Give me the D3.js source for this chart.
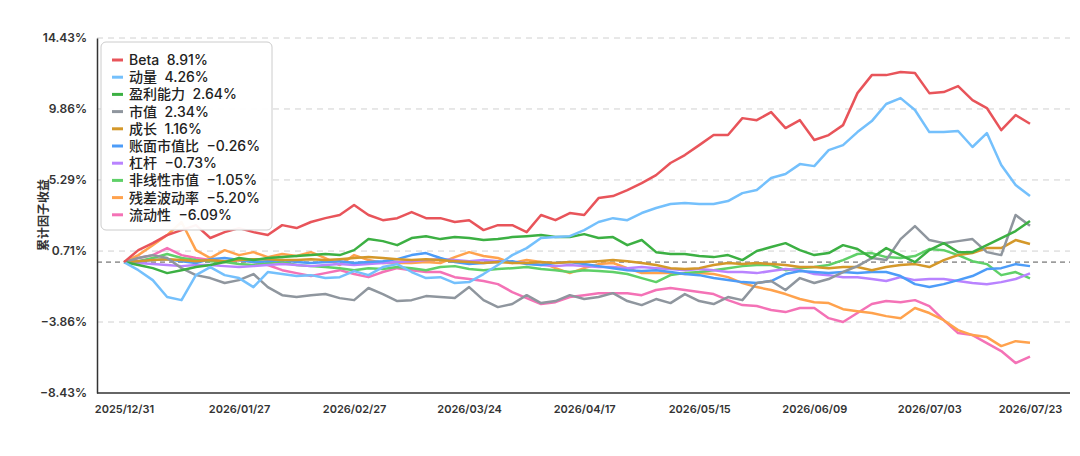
<!DOCTYPE html>
<html>
<head>
<meta charset="utf-8">
<script src="https://cdn.jsdelivr.net/npm/d3@7/dist/d3.min.js"></script>
<style>
body { margin: 0; background: #fff; }
text { font-family: "Inter", "Noto Sans CJK SC", sans-serif; }
</style>
</head>
<body>
<div id="chart"></div>
<script>
// factor names and colours, in legend order
var names = ["Beta", "动量", "盈利能力", "市值", "成长", "账面市值比", "杠杆", "非线性市值", "残差波动率", "流动性"];
var colors = ["#e8545a", "#74c0fc", "#3cb043", "#8f969e", "#d4982a", "#4d9cf8", "#b983ff", "#5fd068", "#ffa24d", "#f472b6"];

// cumulative returns (%), one point every ~2 trading days
var beta = [0,0.77,1.22,1.74,2.06,2.38,1.55,1.93,2.19,1.93,1.74,2.38,2.19,2.58,2.83,3.03,3.67,3.03,2.70,2.83,3.22,2.83,2.83,2.58,2.70,2.06,2.38,2.38,1.93,3.03,2.70,3.16,3.03,4.12,4.25,4.64,5.09,5.60,6.38,6.89,7.53,8.18,8.18,9.27,9.14,9.66,8.63,9.14,7.86,8.18,8.82,10.88,12.04,12.04,12.24,12.17,10.88,10.95,11.33,10.43,9.92,8.50,9.47,8.91];
var momentum = [0,-0.52,-1.16,-2.25,-2.45,-0.84,-0.32,-0.84,-1.03,-1.61,-0.64,-0.77,-0.90,-0.84,-1.03,-0.97,-0.58,-0.84,-0.32,-0.13,-0.64,-1.03,-0.97,-1.35,-1.29,-0.77,-0.19,0.45,0.90,1.55,1.61,1.67,2.06,2.58,2.83,2.70,3.16,3.48,3.74,3.80,3.74,3.74,3.93,4.44,4.64,5.41,5.67,6.31,6.18,7.21,7.53,8.37,9.08,10.18,10.56,9.79,8.37,8.37,8.44,7.41,8.31,6.25,4.96,4.26];
var profit = [0,-0.19,-0.39,-0.71,-0.52,-0.32,-0.19,0,0.26,0.13,0.26,0.32,0.39,0.45,0.52,0.45,0.77,1.48,1.35,1.09,1.55,1.67,1.48,1.61,1.55,1.42,1.48,1.61,1.67,1.74,1.61,1.61,1.80,1.55,1.61,1.09,1.42,0.64,0.52,0.52,0.39,0.32,0.45,0.13,0.71,0.97,1.22,0.77,0.45,0.58,1.09,0.84,0.26,0.90,0.45,0,0.77,1.22,0.64,0.64,1.09,1.55,2.00,2.64];
var size = [0,0.26,0.45,0.26,-0.39,-0.84,-1.03,-1.35,-1.16,-0.77,-1.61,-2.13,-2.25,-2.13,-2.06,-2.32,-2.45,-1.67,-2.06,-2.51,-2.45,-2.19,-2.25,-2.32,-1.61,-2.45,-2.90,-2.70,-2.13,-2.64,-2.51,-2.13,-2.38,-2.25,-2.00,-2.51,-2.77,-2.38,-2.64,-2.06,-2.51,-2.70,-2.25,-2.45,-1.35,-1.22,-1.80,-1.03,-1.35,-1.09,-0.64,-0.26,0.26,0.13,1.48,2.32,1.42,1.22,1.35,1.48,0.64,0.45,3.03,2.34];
var growth = [0,0.06,0.13,0.19,0.13,0.06,0.13,0.06,0.13,0.19,0.19,0.13,0.13,0.19,0.13,0.19,0.26,0.32,0.26,0.19,0.13,0.19,0.13,0.06,0,-0.06,0,-0.06,-0.06,0,-0.06,0,0,0.06,0.13,0.06,-0.06,-0.19,-0.39,-0.45,-0.39,-0.19,-0.06,-0.13,-0.06,-0.13,-0.19,-0.32,-0.32,-0.39,-0.32,-0.32,-0.52,-0.32,-0.19,-0.13,-0.32,0.13,0.45,0.58,0.90,0.90,1.42,1.16];
var btm = [0,0.06,0.13,0.19,0.06,-0.06,0.19,0.26,0.13,0,0.06,0.13,0,-0.06,0,0.06,-0.06,0,0.06,0.19,0.45,0.58,0.26,0,-0.13,-0.06,0,0.06,-0.13,-0.19,-0.06,0,-0.13,-0.26,-0.39,-0.52,-0.58,-0.52,-0.64,-0.77,-0.84,-1.03,-1.16,-1.29,-1.35,-1.22,-0.77,-0.58,-0.64,-0.71,-0.64,-0.71,-0.64,-0.64,-0.90,-1.42,-1.61,-1.42,-1.16,-0.90,-0.45,-0.39,-0.13,-0.26];
var leverage = [0,-0.06,-0.13,-0.19,-0.26,-0.19,-0.19,-0.26,-0.32,-0.26,-0.19,-0.13,-0.19,-0.26,-0.19,-0.13,-0.19,-0.13,-0.06,0,0.06,0.13,0.19,0.13,0.06,0.13,0.06,0,-0.06,-0.19,-0.26,-0.19,-0.26,-0.32,-0.32,-0.39,-0.32,-0.39,-0.45,-0.52,-0.45,-0.52,-0.64,-0.64,-0.71,-0.58,-0.45,-0.52,-0.77,-0.84,-0.97,-0.97,-1.09,-1.22,-0.97,-1.16,-1.09,-1.09,-1.22,-1.35,-1.42,-1.29,-1.09,-0.73];
var nlsize = [0,0.06,0.26,0.52,0.26,0.13,0.06,0,-0.13,-0.19,-0.06,0,-0.19,-0.26,-0.32,-0.39,-0.52,-0.39,-0.45,-0.32,-0.39,-0.52,-0.32,-0.26,-0.45,-0.52,-0.45,-0.39,-0.32,-0.45,-0.52,-0.64,-0.52,-0.58,-0.64,-0.77,-1.03,-1.29,-0.84,-0.71,-0.64,-0.52,-0.39,-0.26,-0.19,-0.19,-0.52,-0.39,-0.32,-0.19,0.13,0.52,0.58,0.32,0.26,0.39,0.84,0.77,0.45,0.06,-0.13,-0.84,-0.64,-1.05];
var resvol = [0,0.45,1.09,1.74,2.58,0.77,0.26,0.77,0.45,0.64,0.32,0.52,0.39,0.64,0.26,-0.19,0.45,0.13,-0.06,-0.06,-0.06,0,-0.06,0.32,0.64,0.39,0.26,-0.06,0.13,0,-0.39,-0.71,-0.39,-0.13,-0.06,-0.39,-0.71,-0.71,-0.71,-0.77,-0.71,-0.77,-0.97,-1.35,-1.61,-1.80,-2.06,-2.38,-2.58,-2.64,-3.03,-3.16,-3.28,-3.48,-3.61,-2.96,-3.28,-3.74,-4.38,-4.70,-4.83,-5.41,-5.09,-5.20];
var liquidity = [0,0.26,0.45,0.90,0.45,0.26,0.13,0,0.13,0,-0.19,-0.52,-0.71,-0.90,-0.71,-0.52,-0.77,-0.97,-0.64,-0.39,-0.52,-0.64,-0.64,-0.97,-1.09,-1.22,-1.42,-1.93,-2.32,-2.70,-2.58,-2.25,-2.13,-2.00,-2.00,-2.00,-2.13,-1.80,-1.67,-1.80,-1.93,-2.06,-2.45,-2.77,-2.83,-3.09,-3.22,-2.96,-2.96,-3.61,-3.86,-3.28,-2.70,-2.51,-2.58,-2.45,-2.83,-3.74,-4.57,-4.70,-5.22,-5.73,-6.50,-6.09];

var series = [beta, momentum, profit, size, growth, btm, leverage, nlsize, resvol, liquidity];

var xTickIdx = [0, 8, 16, 24, 32, 40, 48, 56, 63];
var xTickLabels = ["2025/12/31", "2026/01/27", "2026/02/27", "2026/03/24", "2026/04/17", "2026/05/15", "2026/06/09", "2026/07/03", "2026/07/23"];
var yTicks = [-8.43, -3.86, 0.71, 5.29, 9.86, 14.43];

var W = 1080, H = 456;
var svg = d3.select("#chart").append("svg").attr("width", W).attr("height", H);

var x = d3.scaleLinear().domain([0, beta.length - 1]).range([124, 1030]);
var y = d3.scaleLinear().domain([-8.43, 14.43]).range([393, 38]);

// grid
svg.append("g").selectAll("line").data(yTicks.slice(1)).enter().append("line")
	.attr("x1", 97).attr("x2", 1070)
	.attr("y1", function(d) { return y(d); }).attr("y2", function(d) { return y(d); })
	.attr("stroke", "#d0d0d0").attr("stroke-dasharray", "6,5");

// zero line
svg.append("line").attr("x1", 97).attr("x2", 1070).attr("y1", y(0)).attr("y2", y(0))
	.attr("stroke", "#555").attr("stroke-dasharray", "5,4");

// y axis
var yAxis = svg.append("g").attr("transform", "translate(97,0)")
	.call(d3.axisLeft(y).tickValues(yTicks).tickSize(0).tickPadding(10)
		.tickFormat(function(d) { return d.toFixed(2).replace("-", "−") + "%"; }));
yAxis.select(".domain").attr("stroke", "#333").attr("stroke-width", 1.5);
yAxis.selectAll("text").style("font-size", "12px").style("font-weight", "600").attr("fill", "#333");

// x axis
var xAxis = svg.append("g").attr("transform", "translate(0,393)")
	.call(d3.axisBottom(x).tickValues(xTickIdx).tickSize(0).tickPadding(12)
		.tickFormat(function(d, i) { return xTickLabels[i]; }));
xAxis.select(".domain").attr("d", "M97,0H1070").attr("stroke", "#333").attr("stroke-width", 1.5);
xAxis.selectAll("text").style("font-size", "11px").style("font-weight", "600").attr("fill", "#333");

svg.append("text").attr("transform", "translate(48,215) rotate(-90)")
	.attr("text-anchor", "middle").style("font-size", "12px").style("font-weight", "700")
	.attr("fill", "#333").text("累计因子收益");

var line = d3.line().x(function(d, i) { return x(i); }).y(function(d) { return y(d); });

svg.append("g").selectAll("path").data(series.slice().reverse()).enter().append("path")
	.attr("d", line)
	.attr("fill", "none")
	.attr("stroke", function(d, i) { return colors[series.length - 1 - i]; })
	.attr("stroke-width", 2.5)
	.attr("stroke-linejoin", "round");

// legend
var lg = svg.append("g").attr("transform", "translate(101,42)");
lg.append("rect").attr("width", 171).attr("height", 188).attr("rx", 5)
	.attr("fill", "rgba(255,255,255,0.95)").attr("stroke", "#ccc");
var items = lg.selectAll("g.item").data(names).enter().append("g")
	.attr("transform", function(d, i) { return "translate(11," + (23 + i * 17.2) + ")"; });
items.append("line").attr("x1", 0).attr("x2", 11).attr("y1", -5).attr("y2", -5)
	.attr("stroke", function(d, i) { return colors[i]; }).attr("stroke-width", 3);
items.append("text").attr("x", 17).style("font-size", "14px").style("font-weight", "500").attr("fill", "#222")
	.text(function(d, i) {
		var v = series[i][series[i].length - 1];
		return d + "  " + v.toFixed(2).replace("-", "−") + "%";
	}).attr("xml:space", "preserve");
</script>
</body>
</html>
